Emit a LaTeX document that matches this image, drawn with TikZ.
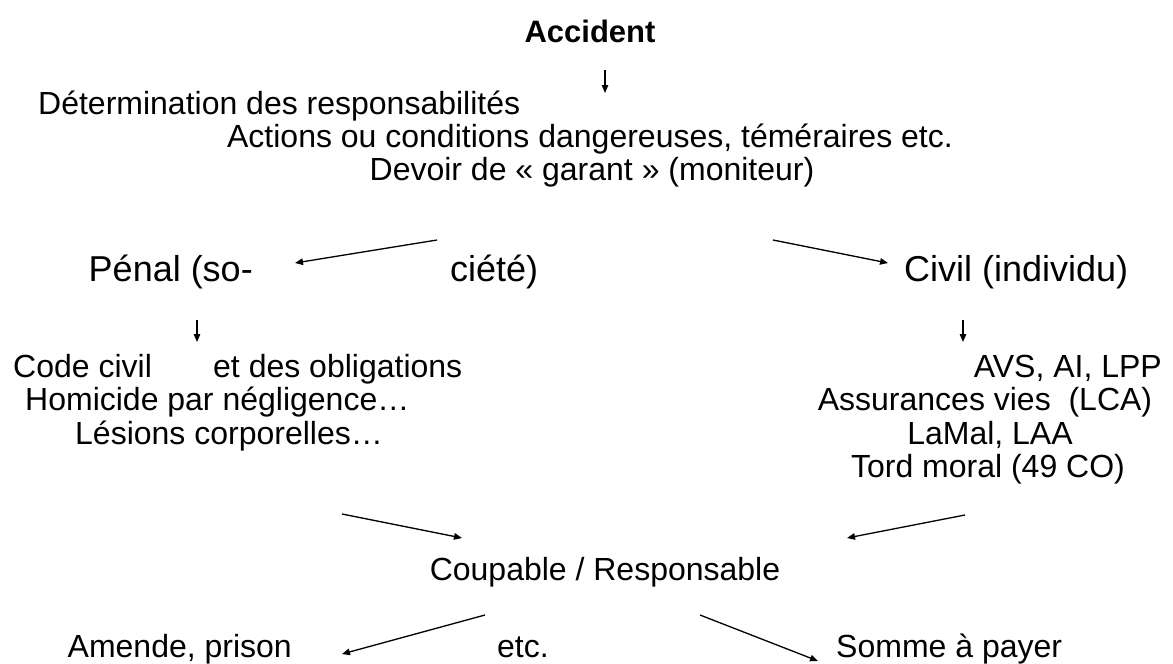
\documentclass[tikz,border=0pt]{standalone}
\usepackage{fontspec}
\setmainfont{Liberation Sans}
\usetikzlibrary{arrows.meta,positioning}

\tikzset{
  txt/.style={inner sep=0pt, font=\fontsize{32}{34}\selectfont},
  grand/.style={inner sep=0pt, font=\fontsize{36}{38}\selectfont},
  fleche/.style={-{Triangle[length=8pt,width=6.5pt]}, line width=1.3pt},
}

\begin{document}
\begin{tikzpicture}[x=1pt, y=-1pt]
    \useasboundingbox (0,0) rectangle (1173,664);

    \node[txt, font=\fontsize{31}{34}\selectfont\bfseries, anchor=base] (acc) at (590,42) {Accident};

    \node[txt, anchor=base west] (deter) at (38,114) {Détermination des responsabilités};
    \node[txt, anchor=base] (actions) at (590,147) {Actions ou conditions dangereuses, téméraires etc.};
    \node[txt, anchor=base] (garant) at (592,180) {Devoir de « garant » (moniteur)};

    \node[grand, anchor=base east] (penal) at (253,281) {Pénal (so-};
    \node[grand, anchor=base west] (societe) at (450,281) {ciété)};
    \node[grand, anchor=base west] (civil) at (904,281) {Civil (individu)};

    \node[txt, anchor=base west] (code) at (13,377) {Code civil};
    \node[txt, anchor=base west] (oblig) at (213,377) {et des obligations};
    \node[txt, anchor=base west] (homicide) at (25,410) {Homicide par négligence…};
    \node[txt, anchor=base west] (lesions) at (75,444) {Lésions corporelles…};

    \node[txt, anchor=base east] (avs) at (1162,377) {AVS, AI, LPP};
    \node[txt, anchor=base] (lca) at (985,410) {Assurances vies\ \ (LCA)};
    \node[txt, anchor=base] (lamal) at (990,444) {LaMal, LAA};
    \node[txt, anchor=base] (tord) at (988,477) {Tord moral (49 CO)};

    \node[txt, anchor=base] (coupable) at (605,580) {Coupable / Responsable};

    \node[txt, anchor=base east] (amende) at (292,657) {Amende, prison};
    \node[txt, anchor=base west] (etc) at (497,657) {etc.};
    \node[txt, anchor=base west] (somme) at (836,657) {Somme à payer};

    % bouts libres des fleches
    \coordinate (f1a) at (605,70);  \coordinate (f1b) at (605,93);
    \coordinate (f2a) at (437,240); \coordinate (f2b) at (295,263);
    \coordinate (f3a) at (773,240); \coordinate (f3b) at (888,263);
    \coordinate (f4a) at (197,320); \coordinate (f4b) at (197,342);
    \coordinate (f5a) at (963,320); \coordinate (f5b) at (963,342);
    \coordinate (f6a) at (342,514); \coordinate (f6b) at (462,538);
    \coordinate (f7a) at (965,515); \coordinate (f7b) at (847,538);
    \coordinate (f8a) at (485,615); \coordinate (f8b) at (342,654);
    \coordinate (f9a) at (700,615); \coordinate (f9b) at (818,661);

    \foreach \f in {1,...,9}
        \draw[fleche] (f\f a) -- (f\f b);
\end{tikzpicture}
\end{document}
